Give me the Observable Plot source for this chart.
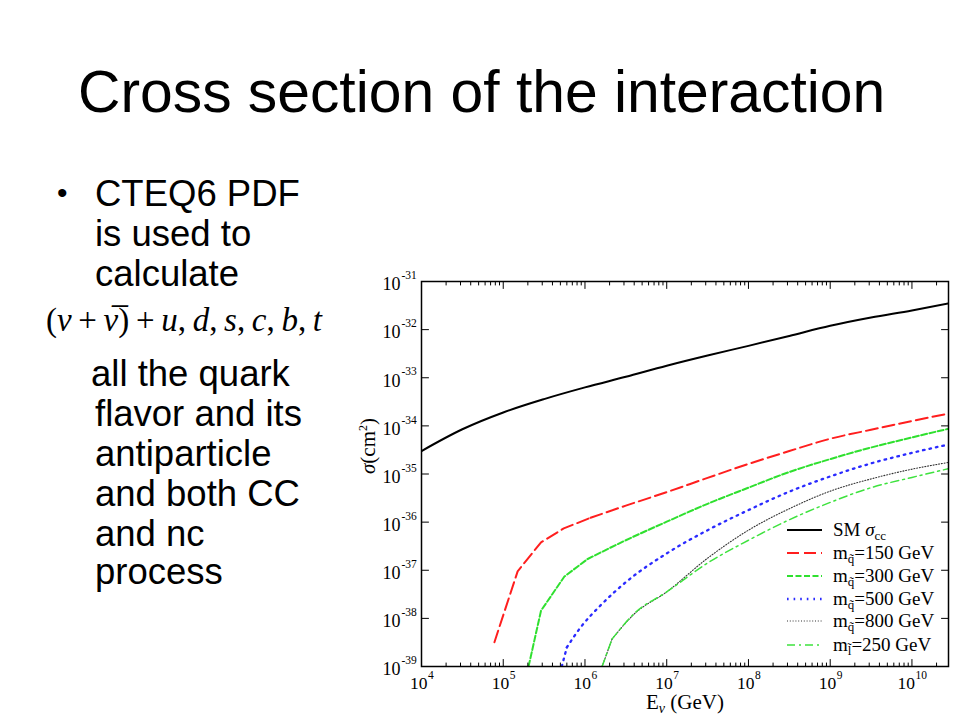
<!DOCTYPE html>
<html><head><meta charset="utf-8">
<script src="https://cdn.jsdelivr.net/npm/d3@7"></script>
<script src="https://cdn.jsdelivr.net/npm/@observablehq/plot@0.6"></script>
<style>
html,body{margin:0;padding:0;background:#fff;}
#page{position:relative;width:960px;height:720px;overflow:hidden;background:#fff;}
#text{position:absolute;left:0;top:0;}
#chart{position:absolute;left:340px;top:270px;width:620px;height:450px;}
#legend{position:absolute;left:0;top:0;pointer-events:none;}
</style></head><body>
<div id="page">
<svg id="text" width="960" height="720" font-family="'Liberation Sans', Arial, sans-serif" fill="#000">
  <text x="78" y="112" font-size="58.8">Cross section of the interaction</text>
  <text x="57" y="203" font-size="30">•</text>
  <g font-size="36.5">
    <text x="95" y="206">CTEQ6 PDF</text>
    <text x="95" y="246">is used to</text>
    <text x="95" y="286">calculate</text>
    <text x="91" y="386">all the quark</text>
    <text x="95" y="426">flavor and its</text>
    <text x="95" y="466">antiparticle</text>
    <text x="95" y="506">and both CC</text>
    <text x="95" y="546">and nc</text>
    <text x="95" y="584">process</text>
  </g>
  <text x="46" y="331" font-family="'Liberation Serif', serif" font-size="33" textLength="276" lengthAdjust="spacing"><tspan>(</tspan><tspan font-style="italic">ν</tspan><tspan>&#x2009;+&#x2009;</tspan><tspan font-style="italic">ν&#x0305;</tspan><tspan>)&#x2009;+&#x2009;</tspan><tspan font-style="italic">u</tspan><tspan>,&#x2009;</tspan><tspan font-style="italic">d</tspan><tspan>,&#x2009;</tspan><tspan font-style="italic">s</tspan><tspan>,&#x2009;</tspan><tspan font-style="italic">c</tspan><tspan>,&#x2009;</tspan><tspan font-style="italic">b</tspan><tspan>,&#x2009;</tspan><tspan font-style="italic">t</tspan></text>
</svg>
<div id="chart"></div>
<svg id="legend" width="960" height="720" font-family="'Liberation Serif', serif"></svg>
</div>
<script>
// ---- data ----
const energySM = [1e4,3.16e4,1e5,3.16e5,1e6,3.16e6,1e7,3.16e7,1e8,3.16e8,1e9,3.16e9,1e10,2.8e10];
const sigmaSM  = [3.0e-35,8.5e-35,1.9e-34,3.6e-34,6.3e-34,1.05e-33,1.78e-33,2.9e-33,4.6e-33,7.4e-33,1.2e-32,1.78e-32,2.5e-32,3.5e-32];
const energy150 = [7.8e4,1.5e5,2.9e5,5.5e5,1.17e6,3.16e6,1e7,3.16e7,1e8,3.16e8,1e9,3.16e9,1e10,2.8e10];
const sigma150  = [3.2e-39,9.5e-38,3.8e-37,7.4e-37,1.23e-36,2.2e-36,4.2e-36,8.3e-36,1.62e-35,3.0e-35,5.4e-35,8.3e-35,1.26e-34,1.8e-34];
const energy300 = [2.04e5,2.9e5,5.6e5,1.07e6,3.16e6,1e7,3.16e7,1e8,3.16e8,1e9,3.16e9,1e10,2.8e10];
const sigma300  = [1e-39,1.45e-38,7.4e-38,1.7e-37,4.2e-37,1.02e-36,2.4e-36,5.2e-36,1.1e-35,2.04e-35,3.55e-35,5.75e-35,8.7e-35];
const energy500 = [5.2e5,6.0e5,8.9e5,1.55e6,3.3e6,1e7,3.16e7,1e8,3.16e8,1e9,3.16e9,1e10,2.8e10];
const sigma500  = [1e-39,2.5e-39,6.6e-39,1.86e-38,6.0e-38,2.24e-37,6.8e-37,1.78e-36,4.3e-36,8.9e-36,1.66e-35,2.75e-35,4.1e-35];
const energy800 = [1.62e6,2.14e6,4.0e6,1e7,3.16e7,1e8,3.16e8,1e9,3.16e9,1e10,2.8e10];
const sigma800  = [1e-39,3.7e-39,1.23e-38,3.55e-38,1.78e-37,6.8e-37,1.9e-36,4.4e-36,7.9e-36,1.26e-35,1.74e-35];
const energySl250 = [1.62e6,2.14e6,4.0e6,1e7,3.16e7,1e8,3.16e8,1e9,3.16e9,1e10,2.8e10];
const sigmaSl250  = [1e-39,3.7e-39,1.26e-38,3.55e-38,1.41e-37,4.2e-37,1.12e-36,2.57e-36,5.2e-36,8.5e-36,1.29e-35];

const seriesKeys = ["SM","m150","m300","m500","m800","l250"];
const seriesMass = ["", "150", "300", "500", "800", "250"];
const xTickValues = [1e4,1e5,1e6,1e7,1e8,1e9,1e10];
const xTickExps   = ["4","5","6","7","8","9","10"];
const yTickValues = [1e-31,1e-32,1e-33,1e-34,1e-35,1e-36,1e-37,1e-38,1e-39];
const yTickExps   = ["-31","-32","-33","-34","-35","-36","-37","-38","-39"];
const xDomain = [1e4, 2.8e10];
const yDomain = [1e-39, 1e-31];

// ---- styles (knee: index where the smooth part of the curve begins) ----
const styles = {
  SM:   {stroke:"#000000", dash:null,      width:2.0, knee:0},
  m150: {stroke:"#ff1e1e", dash:"12,5",    width:2.0, knee:4},
  m300: {stroke:"#2fe02f", dash:"6,2.5",   width:2.0, knee:3},
  m500: {stroke:"#2a2aff", dash:"1.6,5",   width:2.3, knee:1},
  m800: {stroke:"#333333", dash:"1,1.8",   width:1.1, knee:1},
  l250: {stroke:"#3ee23e", dash:"8,4,2,4", width:1.5, knee:1}
};

const energies = [energySM, energy150, energy300, energy500, energy800, energySl250];
const sigmas   = [sigmaSM, sigma150, sigma300, sigma500, sigma800, sigmaSl250];
const tables = seriesKeys.map((k,i) => energies[i].map((E,j) => ({series:k, E, sigma:sigmas[i][j]})));

const minorX = d3.scaleLog().domain(xDomain).ticks().filter(v => !xTickValues.includes(v));
const tickShape = {draw(context, l){ context.moveTo(0,0); context.lineTo(0,-l); }};
const xLabels = xTickValues.map((v,i)=>({v, e:xTickExps[i]}));
const yLabels = yTickValues.map((v,i)=>({v, e:yTickExps[i]}));

const marks = [];
tables.forEach((t,i) => {
  const s = styles[seriesKeys[i]];
  const common = {x:"E", y:"sigma", stroke:s.stroke, strokeWidth:s.width,
    strokeDasharray:s.dash || undefined, clip:true};
  if (s.knee > 0) marks.push(Plot.line(t.slice(0, s.knee + 1), {...common, curve:"linear"}));
  marks.push(Plot.line(t.slice(s.knee), {...common, curve:"monotone-x"}));
});
// inward ticks on all four sides
const tk = (data, anchor, rotate, len, ch) => Plot.vector(data, {[ch]: d=>d, frameAnchor:anchor, rotate, length:len,
  anchor:"start", shape:tickShape, stroke:"#000", strokeWidth:1});
marks.push(
  tk(xTickValues,"bottom",0,7,"x"), tk(minorX,"bottom",0,3.5,"x"),
  tk(xTickValues,"top",180,7,"x"), tk(minorX,"top",180,3.5,"x"),
  tk(yTickValues,"left",90,7,"y"), tk(yTickValues,"right",-90,7,"y"),
  Plot.frame({stroke:"#000", strokeWidth:1.5})
);
// tick labels 10^n
marks.push(
  Plot.text(yLabels, {y:"v", text:()=> "10", frameAnchor:"left", dx:-21, dy:3, textAnchor:"end", fontSize:18}),
  Plot.text(yLabels, {y:"v", text:"e", frameAnchor:"left", dx:-20, dy:-6, textAnchor:"start", fontSize:11.5}),
  Plot.text(xLabels.filter(d=>d.e.length===1), {x:"v", text:()=>"10", frameAnchor:"bottom", dx:6, dy:22, textAnchor:"end", lineAnchor:"bottom", fontSize:17.5}),
  Plot.text(xLabels.filter(d=>d.e.length===1), {x:"v", text:"e", frameAnchor:"bottom", dx:6.5, dy:12, textAnchor:"start", lineAnchor:"bottom", fontSize:11.5}),
  Plot.text(xLabels.filter(d=>d.e.length===2), {x:"v", text:()=>"10", frameAnchor:"bottom", dx:3, dy:22, textAnchor:"end", lineAnchor:"bottom", fontSize:17.5}),
  Plot.text(xLabels.filter(d=>d.e.length===2), {x:"v", text:"e", frameAnchor:"bottom", dx:3.5, dy:12, textAnchor:"start", lineAnchor:"bottom", fontSize:11.5}),
  Plot.text(["Eν (GeV)"], {text:d=>d, frameAnchor:"bottom", dy:42, lineAnchor:"bottom", fontSize:21}),
  Plot.text(["σ(cm2)"], {text:d=>d, frameAnchor:"left", dx:-53, rotate:-90, fontSize:21})
);

const chart = Plot.plot({
  width:620, height:450,
  marginLeft:81, marginRight:12, marginTop:11, marginBottom:54,
  x:{type:"log", domain:xDomain, axis:null},
  y:{type:"log", domain:yDomain, axis:null},
  style:{fontFamily:"'Liberation Serif', 'Times New Roman', serif", background:"transparent", color:"#000"},
  marks
});
document.getElementById("chart").append(chart);

// rich-text axis titles
d3.select(chart).selectAll("text").each(function(){
  const t = d3.select(this);
  const s = this.textContent;
  if (s === "Eν (GeV)") {
    t.text(null);
    t.append("tspan").text("E");
    t.append("tspan").attr("font-size",14).attr("dy",4).attr("font-style","italic").text("ν");
    t.append("tspan").attr("dy",-4).text(" (GeV)");
  } else if (s === "σ(cm2)") {
    t.text(null);
    t.append("tspan").attr("font-style","italic").text("σ");
    t.append("tspan").text("(cm");
    t.append("tspan").attr("font-size",12).attr("dy",-8).text("2");
    t.append("tspan").attr("dy",8).text(")");
  }
});

// legend
const lg = d3.select("#legend");
const rowY = [530, 553, 576, 599, 621, 645];
seriesKeys.forEach((k,i) => {
  const s = styles[k];
  lg.append("line").attr("x1",787).attr("x2",822).attr("y1",rowY[i]).attr("y2",rowY[i])
    .attr("stroke",s.stroke).attr("stroke-width",s.width).attr("stroke-dasharray",s.dash);
  const t = lg.append("text").attr("x",833).attr("y",rowY[i]+6).attr("font-size",19);
  if (k === "SM") {
    t.append("tspan").text("SM ");
    t.append("tspan").attr("font-style","italic").text("σ");
    t.append("tspan").attr("font-size",13).attr("dy",4).text("cc");
  } else {
    t.append("tspan").text("m");
    t.append("tspan").attr("font-size",13).attr("dy",4).text(k.startsWith("l") ? "l\u0303" : "q\u0303");
    t.append("tspan").attr("dy",-4).text("=" + seriesMass[i] + " GeV");
  }
});
</script></body></html>
